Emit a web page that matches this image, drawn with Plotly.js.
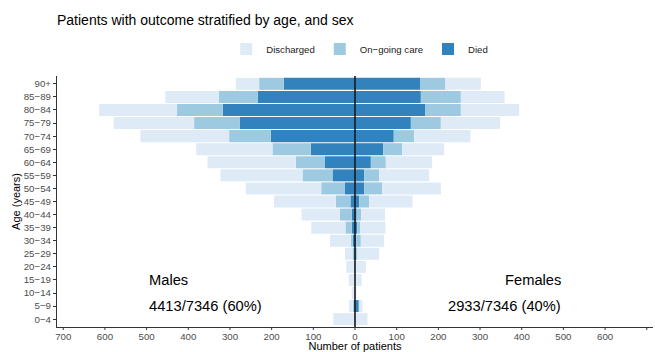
<!DOCTYPE html>
<html>
<head>
<meta charset="utf-8">
<script src="https://cdn.plot.ly/plotly-3.0.1.min.js"></script>
<style>html,body{margin:0;padding:0;background:#fff;}#chart{width:655px;height:352px;}</style>
</head>
<body>
<div id="chart"></div>
<script>
// Age groups (bottom to top)
const ageGroups = ["0−4","5−9","10−14","15−19","20−24","25−29","30−34","35−39","40−44","45−49","50−54","55−59","60−64","65−69","70−74","75−79","80−84","85−89","90+"];

// Males (counts per outcome, stacked outward from 0)
const maleDied       = [0, 3, 0, 0, 0, 2, 5, 8, 8, 11, 24, 54, 72, 106, 202, 276, 317, 233, 171];
const maleOngoing    = [3, 2, 0, 1, 2, 4, 5, 15, 28, 35, 57, 72, 70, 92, 100, 110, 110, 94, 59];
const maleDischarged = [49, 9, 8, 14, 19, 18, 50, 82, 92, 148, 181, 197, 212, 183, 213, 193, 187, 128, 56];

// Females
const femaleDied       = [0, 9, 0, 0, 0, 2, 3, 5, 4, 10, 22, 22, 38, 68, 93, 134, 169, 158, 156];
const femaleOngoing    = [1, 2, 0, 0, 1, 4, 11, 7, 11, 24, 43, 36, 36, 45, 49, 72, 85, 96, 61];
const femaleDischarged = [29, 7, 3, 16, 25, 52, 56, 61, 57, 104, 141, 120, 111, 101, 135, 142, 140, 105, 85];

const outcomeNames = ["Died", "On−going care", "Discharged"];
const outcomeColors = ["#3182bd", "#9ecae1", "#deebf7"];

const xTickVals = [-700,-600,-500,-400,-300,-200,-100,0,100,200,300,400,500,600,700];
const xTickText = xTickVals.map(v => String(Math.abs(v)));

const maleLabel = "Males";
const maleShare = "4413/7346 (60%)";
const femaleLabel = "Females";
const femaleShare = "2933/7346 (40%)";

const neg = a => a.map(v => -v);
const maleSeries = [maleDied, maleOngoing, maleDischarged];
const femaleSeries = [femaleDied, femaleOngoing, femaleDischarged];

const traces = [];
maleSeries.forEach((vals, i) => {
  traces.push({
    type: "bar", orientation: "h", y: ageGroups, x: neg(vals),
    name: outcomeNames[i], legendgroup: outcomeNames[i],
    marker: {color: outcomeColors[i], line: {width: 0}},
    hoverinfo: "skip"
  });
});
femaleSeries.forEach((vals, i) => {
  traces.push({
    type: "bar", orientation: "h", y: ageGroups, x: vals,
    name: outcomeNames[i], legendgroup: outcomeNames[i], showlegend: false,
    marker: {color: outcomeColors[i], line: {width: 0}},
    hoverinfo: "skip"
  });
});

const font = "Liberation Sans, Arial, Helvetica, sans-serif";
const plotH = 352 - 76 - 25;

// x tick marks (outside, 3px), placed at the axis tick values
const tickShapes = xTickVals.map(v => ({
  type: "line", xref: "x", yref: "paper", x0: v, x1: v, y0: 0, y1: -3/plotH,
  line: {color: "#333", width: 1}
}));

const layout = {
  width: 655, height: 352,
  margin: {l: 57, r: 2, t: 76, b: 25, pad: 0},
  paper_bgcolor: "#fff", plot_bgcolor: "#fff",
  font: {family: font, color: "#000"},
  barmode: "relative", bargap: 0.08,
  title: {text: "Patients with outcome stratified by age, and sex", x: 57/655, xanchor: "left", xref: "container",
          y: 1 - 20.5/352, yanchor: "middle", yref: "container", font: {size: 14, color: "#000", family: font}},
  showlegend: true,
  legend: {orientation: "h", traceorder: "reversed", x: 0.284, xanchor: "left", y: 1 + 27/251, yanchor: "middle",
           itemwidth: 30, font: {size: 9.6, color: "#222", family: font}, bgcolor: "rgba(0,0,0,0)"},
  xaxis: {
    range: [-715, 715], tickmode: "array", tickvals: xTickVals, ticktext: xTickText,
    showgrid: false, zeroline: false, showline: true, linecolor: "#333", linewidth: 1.1,
    ticks: "", ticklen: 0,
    tickfont: {size: 9.7, color: "#4d4d4d", family: font},
    title: {text: "Number of patients", font: {size: 11, color: "#000", family: font}},
    fixedrange: true
  },
  yaxis: {
    type: "category", categoryorder: "array", categoryarray: ageGroups, range: [-0.6, 18.6],
    showgrid: false, zeroline: false, showline: true, linecolor: "#333", linewidth: 1.1,
    ticks: "outside", ticklen: 3, tickcolor: "#333", tickwidth: 1,
    tickfont: {size: 9.7, color: "#4d4d4d", family: font},
    title: {text: "Age (years)", font: {size: 11, color: "#000", family: font}},
    fixedrange: true
  },
  shapes: [{type: "line", xref: "x", yref: "paper", x0: 0, x1: 0, y0: 0, y1: 1, layer: "above",
            line: {color: "#1a1a1a", width: 1.6}}].concat(tickShapes),
  annotations: [
    {x: -500, y: "15−19", xref: "x", yref: "y", text: maleLabel, showarrow: false, xanchor: "left", yanchor: "middle", font: {size: 14.7, color: "#000", family: font}},
    {x: -500, y: "5−9", xref: "x", yref: "y", text: maleShare, showarrow: false, xanchor: "left", yanchor: "middle", font: {size: 14.7, color: "#000", family: font}},
    {x: 500, y: "15−19", xref: "x", yref: "y", text: femaleLabel, showarrow: false, xanchor: "right", yanchor: "middle", font: {size: 14.7, color: "#000", family: font}},
    {x: 500, y: "5−9", xref: "x", yref: "y", text: femaleShare, showarrow: false, xanchor: "right", yanchor: "middle", font: {size: 14.7, color: "#000", family: font}}
  ]
};

Plotly.newPlot("chart", traces, layout, {displayModeBar: false, staticPlot: true});
</script>
</body>
</html>
